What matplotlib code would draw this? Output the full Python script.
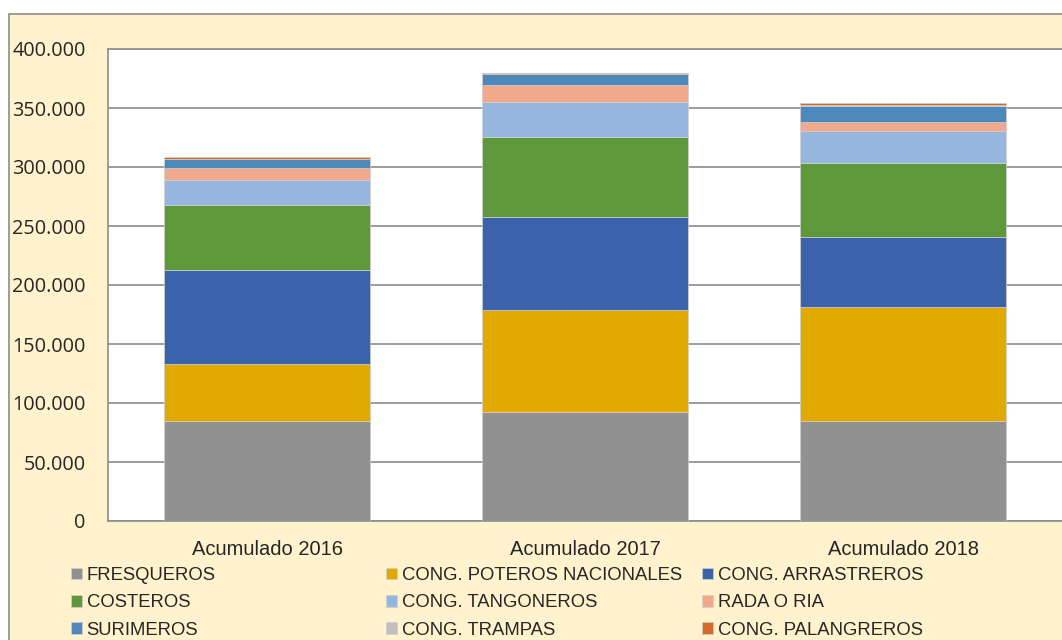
import numpy as np
import matplotlib.pyplot as plt
from matplotlib.patches import Rectangle

categories = ["Acumulado 2016", "Acumulado 2017", "Acumulado 2018"]

series_names = [
    "FRESQUEROS", "CONG. POTEROS NACIONALES", "CONG. ARRASTREROS",
    "COSTEROS", "CONG. TANGONEROS", "RADA O RIA",
    "SURIMEROS", "CONG. TRAMPAS", "CONG. PALANGREROS",
]

# values in thousands
fresqueros = [84.7, 92.0, 85.0]
poteros = [48.4, 87.1, 96.0]
arrastreros = [79.3, 78.5, 59.3]
costeros = [55.1, 68.1, 63.3]
tangoneros = [21.7, 29.7, 27.2]
rada = [10.0, 14.1, 7.1]
surimeros = [7.2, 9.1, 14.0]
trampas = [0.8, 0.5, 0.8]
palangreros = [1.5, 0.4, 1.5]

colors = ["#919191", "#E2AA00", "#3B63AC", "#5F983B", "#95B6DF",
          "#F0A98A", "#4D88BA", "#BFBFBF", "#D0692A"]

values = [fresqueros, poteros, arrastreros, costeros, tangoneros,
          rada, surimeros, trampas, palangreros]

fig = plt.figure(figsize=(10.62, 6.4), dpi=100)
fig.patch.set_facecolor("white")
bg = Rectangle((9 / 1062, -0.05), 1.2, 1.05 - 14 / 640,
               transform=fig.transFigure, facecolor="#FFF2CC",
               edgecolor="#8c8c8c", linewidth=1.2, zorder=-5)
fig.patches.append(bg)

ax = fig.add_axes([108 / 1062, 1 - 521 / 640, 1 - 108 / 1062, (521 - 49) / 640])
ax.set_zorder(2)
ax.set_facecolor("white")

x = np.arange(len(categories))
bottom = np.zeros(len(categories))
handles = []
for name, vals, c in zip(series_names, values, colors):
    v = np.array(vals) * 1000
    b = ax.bar(x, v, 0.645, bottom=bottom, color=c, label=name,
               edgecolor="#d0d0d0", linewidth=0.5, zorder=3)
    handles.append(b)
    bottom += v

ax.set_xlim(-0.5, 2.5)
ax.set_ylim(0, 400000)
ax.set_yticks(np.arange(0, 400001, 50000))
ax.set_yticklabels(["0" if t == 0 else f"{t // 1000}.000" for t in range(0, 400001, 50000)],
                   fontfamily="Open Sans", fontsize=14.3, color="#262626")
ax.set_xticks(x)
ax.set_xticklabels(categories, fontfamily="Liberation Sans", fontsize=14.5, color="#262626")
ax.tick_params(axis="y", length=0, pad=16)
ax.tick_params(axis="x", length=0, pad=14)
ax.grid(axis="y", color="#8c8c8c", linewidth=1.2, zorder=0)
ax.set_axisbelow(True)
for s in ["left", "bottom", "top"]:
    ax.spines[s].set_color("#8c8c8c")
    ax.spines[s].set_linewidth(1.2)
ax.spines["right"].set_visible(False)

# legend: three columns, row-wise order
col_x = [71, 386, 702]
for j in range(3):
    hs = handles[j::3]
    leg = fig.legend(hs, [h.get_label() for h in hs],
                     loc="upper left", bbox_to_anchor=(col_x[j] / 1062, 1 - 567 / 640),
                     frameon=False, handlelength=0.6, handleheight=0.6,
                     handletextpad=0.25, labelspacing=0.56,
                     prop={"family": "Liberation Sans", "size": 13.3},
                     borderaxespad=0, borderpad=0)
    leg.set_zorder(3)
    for t in leg.get_texts():
        t.set_color("#262626")

fig.savefig("out.png", dpi=100)
